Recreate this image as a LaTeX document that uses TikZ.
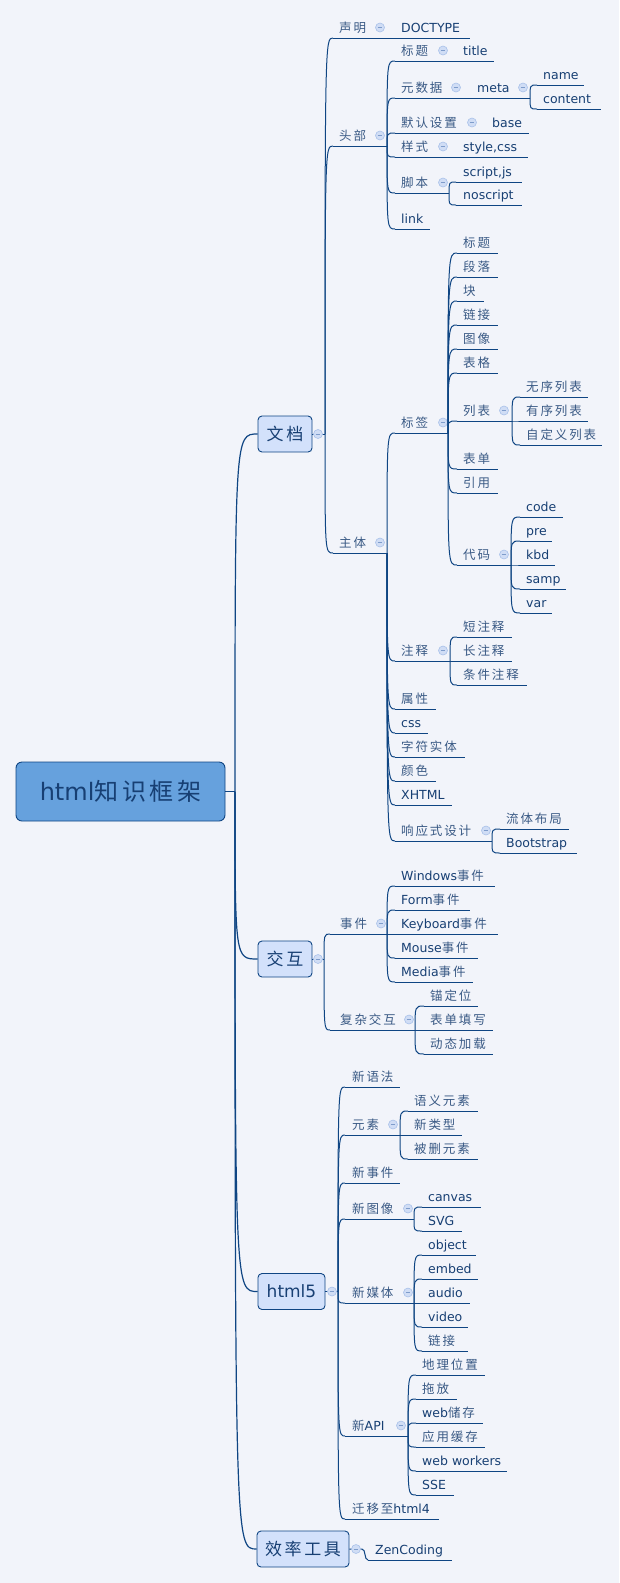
\documentclass[tikz,border=0pt]{standalone}
\usepackage{fontspec}
\setmainfont{DejaVu Sans}
\newfontfamily\cj[LetterSpace=15]{Noto Sans CJK SC}
\definecolor{bg}{HTML}{F2F4FA}
\definecolor{ln}{HTML}{0F4583}
\definecolor{tx}{HTML}{173F73}
\definecolor{tcj}{HTML}{3A5A85}
\definecolor{rootfill}{HTML}{66A1DD}
\definecolor{mainfill}{HTML}{D3E1FB}
\definecolor{ccfill}{HTML}{D0DDF5}
\definecolor{ccdraw}{HTML}{A9C1E9}
\definecolor{ccminus}{HTML}{7E9CCB}
\newcommand\zhc[1]{{\cj\color{tcj}#1}}
% [text offset]{name}{left x}{right x}{underline y}{text}
\newcommand\tp[6][6]{%
  \coordinate (#2-l) at (#3,#5);
  \coordinate (#2-r) at (#4,#5);
  \node[lbl, anchor=base west] (#2) at (#3+#1,#5-6) {#6};
  \draw[uline] (#2-l) -- (#2-r);
}
\newcommand\cc[3]{\node[collapse] (#1) at (#2,#3-10.5) {};}
\newcommand\cn[2]{\draw[conn] (#1) .. controls (#1 |- #2) .. (#2);}
\tikzset{
  lbl/.style={inner sep=0pt, text=tx, font=\fontsize{12.5}{14}\selectfont},
  uline/.style={draw=ln, line width=0.9pt},
  conn/.style={draw=ln, line width=1pt},
  trunk/.style={draw=ln, line width=1.2pt},
  mainbox/.style={draw=ln, fill=mainfill, rounded corners=4pt, line width=0.9pt,
    inner sep=0pt, minimum height=36pt, text=tx, font=\fontsize{17}{20}\selectfont},
  rootbox/.style={draw=ln, fill=rootfill, rounded corners=6pt, line width=0.9pt,
    inner sep=0pt, text=tx, font=\fontsize{24}{28}\selectfont},
  collapse/.style={circle, draw=ccdraw, fill=ccfill, minimum size=9pt, inner sep=0pt,
    line width=0.6pt, path picture={\draw[draw=ccminus, line width=0.7pt]
      ([xshift=-2.3pt]path picture bounding box.center) --
      ([xshift=2.3pt]path picture bounding box.center);}}
}
\begin{document}
\begin{tikzpicture}[x=1pt, y=-1pt]
\fill[bg] (0,0) rectangle (619,1583);
\useasboundingbox (0,0) rectangle (619,1583);

% ---------- root and main topics ----------
\node[rootbox, minimum width=209pt, minimum height=59pt] (root) at (120.5,791.5) {html{\cj 知识框架}};
\node[mainbox, minimum width=54pt] (doc) at (285,434) {\cj 文档};
\node[mainbox, minimum width=54pt] (inter) at (285,959) {\cj 交互};
\node[mainbox, minimum width=67pt] (h5) at (291.5,1291.5) {html5};
\node[mainbox, minimum width=92pt] (eff) at (303,1549) {\cj 效率工具};
\coordinate (T0) at (235,791.5);
\draw[trunk] (root.east) -- (T0);
\draw[trunk] (T0) .. controls (T0 |- doc.west) .. (doc.west);
\draw[trunk] (T0) .. controls (T0 |- inter.west) .. (inter.west);
\draw[trunk] (T0) .. controls (T0 |- h5.west) .. (h5.west);
\draw[trunk] (T0) .. controls (T0 |- eff.west) .. (eff.west);

% ---------- 文档 ----------
\coordinate (T1) at (325,434);
\draw[conn] (doc.east) -- (T1);
\node[collapse] (cdoc) at (318,434) {};
\tp{sm}{333}{395}{38}{\zhc{声明}} \cc{csm}{380}{38}
\tp{dtype}{395}{470}{38}{DOCTYPE}
\tp{hd}{333}{387}{146}{\zhc{头部}} \cc{chd}{380}{146}
\tp{zt}{333}{387}{553}{\zhc{主体}} \cc{czt}{380}{553}
\cn{T1}{sm-l} \cn{T1}{hd-l} \cn{T1}{zt-l}

% 头部
\tp{hbt}{395}{457}{61}{\zhc{标题}} \cc{chbt}{443}{61}
\tp{ntitle}{457}{494}{61}{title}
\tp{ysj}{395}{471}{98}{\zhc{元数据}} \cc{cysj}{456}{98}
\tp{nmeta}{471}{530}{98}{meta} \cc{cmeta}{523}{98}
\tp{nname}{537}{584}{85}{name}
\tp{ncontent}{537}{601}{109}{content}
\cn{nmeta-r}{nname-l} \cn{nmeta-r}{ncontent-l}
\tp{mrsz}{395}{486}{133}{\zhc{默认设置}} \cc{cmrsz}{472}{133}
\tp{nbase}{486}{529}{133}{base}
\tp{ysh}{395}{457}{157}{\zhc{样式}} \cc{cysh}{443}{157}
\tp{nstyle}{457}{528}{157}{style,css}
\tp{jb}{395}{449}{193}{\zhc{脚本}} \cc{cjb}{443}{193}
\tp[7]{nscript}{456}{522}{182}{script,js}
\tp[7]{nnoscript}{456}{522}{205}{noscript}
\cn{jb-r}{nscript-l} \cn{jb-r}{nnoscript-l}
\tp{nlink}{395}{430}{229}{link}
\cn{hd-r}{hbt-l} \cn{hd-r}{ysj-l} \cn{hd-r}{mrsz-l} \cn{hd-r}{ysh-l} \cn{hd-r}{jb-l} \cn{hd-r}{nlink-l}

% 主体
\tp{bq}{395}{448}{433}{\zhc{标签}} \cc{cbq}{443}{433}
\tp{bq1}{457}{498}{253}{\zhc{标题}}
\tp{bq2}{457}{498}{277}{\zhc{段落}}
\tp{bq3}{457}{484}{301}{\zhc{块}}
\tp{bq4}{457}{498}{325}{\zhc{链接}}
\tp{bq5}{457}{498}{349}{\zhc{图像}}
\tp{bq6}{457}{498}{373}{\zhc{表格}}
\tp{lb}{457}{512}{421}{\zhc{列表}} \cc{clb}{504}{421}
\tp{lb1}{520}{588}{397}{\zhc{无序列表}}
\tp{lb2}{520}{588}{421}{\zhc{有序列表}}
\tp{lb3}{520}{602}{445}{\zhc{自定义列表}}
\cn{lb-r}{lb1-l} \cn{lb-r}{lb2-l} \cn{lb-r}{lb3-l}
\tp{bd}{457}{498}{469}{\zhc{表单}}
\tp{yy}{457}{498}{493}{\zhc{引用}}
\tp{dm}{457}{511}{565}{\zhc{代码}} \cc{cdm}{504}{565}
\tp{ncode}{520}{563}{517}{code}
\tp{npre}{520}{552}{541}{pre}
\tp{nkbd}{520}{555}{565}{kbd}
\tp{nsamp}{520}{566}{589}{samp}
\tp{nvar}{520}{552}{613}{var}
\cn{dm-r}{ncode-l} \cn{dm-r}{npre-l} \cn{dm-r}{nkbd-l} \cn{dm-r}{nsamp-l} \cn{dm-r}{nvar-l}
\cn{bq-r}{bq1-l} \cn{bq-r}{bq2-l} \cn{bq-r}{bq3-l} \cn{bq-r}{bq4-l} \cn{bq-r}{bq5-l}
\cn{bq-r}{bq6-l} \cn{bq-r}{lb-l} \cn{bq-r}{bd-l} \cn{bq-r}{yy-l} \cn{bq-r}{dm-l}

\tp{zs}{395}{450}{661}{\zhc{注释}} \cc{czs}{443}{661}
\tp{zs1}{457}{512}{637}{\zhc{短注释}}
\tp{zs2}{457}{512}{661}{\zhc{长注释}}
\tp{zs3}{457}{527}{685}{\zhc{条件注释}}
\cn{zs-r}{zs1-l} \cn{zs-r}{zs2-l} \cn{zs-r}{zs3-l}
\tp{sx}{395}{436}{709}{\zhc{属性}}
\tp{ncss}{395}{428}{733}{css}
\tp{zfst}{395}{465}{757}{\zhc{字符实体}}
\tp{yse}{395}{436}{781}{\zhc{颜色}}
\tp{nxhtml}{395}{452}{805}{XHTML}
\tp{xy}{395}{492}{841}{\zhc{响应式设计}} \cc{cxy}{486}{841}
\tp{xy1}{500}{569}{829}{\zhc{流体布局}}
\tp{xy2}{500}{577}{853}{Bootstrap}
\cn{xy-r}{xy1-l} \cn{xy-r}{xy2-l}
\cn{zt-r}{bq-l} \cn{zt-r}{zs-l} \cn{zt-r}{sx-l} \cn{zt-r}{ncss-l} \cn{zt-r}{zfst-l}
\cn{zt-r}{yse-l} \cn{zt-r}{nxhtml-l} \cn{zt-r}{xy-l}

% ---------- 交互 ----------
\coordinate (T2) at (324,959);
\draw[conn] (inter.east) -- (T2);
\node[collapse] (cinter) at (318,959) {};
\tp[10]{sj}{330}{387}{934}{\zhc{事件}} \cc{csj}{381}{934}
\tp{sj1}{395}{495}{886}{Windows\zhc{事件}}
\tp{sj2}{395}{470}{910}{Form\zhc{事件}}
\tp{sj3}{395}{498}{934}{Keyboard\zhc{事件}}
\tp{sj4}{395}{478}{958}{Mouse\zhc{事件}}
\tp{sj5}{395}{473}{982}{Media\zhc{事件}}
\cn{sj-r}{sj1-l} \cn{sj-r}{sj2-l} \cn{sj-r}{sj3-l} \cn{sj-r}{sj4-l} \cn{sj-r}{sj5-l}
\tp[10]{fz}{330}{415}{1030}{\zhc{复杂交互}} \cc{cfz}{409}{1030}
\tp{fz1}{424}{478}{1006}{\zhc{锚定位}}
\tp{fz2}{424}{493}{1030}{\zhc{表单填写}}
\tp{fz3}{424}{493}{1054}{\zhc{动态加载}}
\cn{fz-r}{fz1-l} \cn{fz-r}{fz2-l} \cn{fz-r}{fz3-l}
\cn{T2}{sj-l} \cn{T2}{fz-l}

% ---------- html5 ----------
\coordinate (T3) at (338,1291.5);
\draw[conn] (h5.east) -- (T3);
\node[collapse] (ch5) at (332,1291.5) {};
\tp[7]{xyf}{345}{400}{1087}{\zhc{新语法}}
\tp[7]{yss}{345}{400}{1135}{\zhc{元素}} \cc{cyss}{393}{1135}
\tp{yss1}{408}{478}{1111}{\zhc{语义元素}}
\tp{yss2}{408}{462}{1135}{\zhc{新类型}}
\tp{yss3}{408}{478}{1159}{\zhc{被删元素}}
\cn{yss-r}{yss1-l} \cn{yss-r}{yss2-l} \cn{yss-r}{yss3-l}
\tp[7]{xsj}{345}{400}{1183}{\zhc{新事件}}
\tp[7]{xtx}{345}{414}{1219}{\zhc{新图像}} \cc{cxtx}{408}{1219}
\tp{ncanvas}{422}{481}{1207}{canvas}
\tp{nsvg}{422}{462}{1231}{SVG}
\cn{xtx-r}{ncanvas-l} \cn{xtx-r}{nsvg-l}
\tp[7]{xmt}{345}{414}{1303}{\zhc{新媒体}} \cc{cxmt}{408}{1303}
\tp{nobject}{422}{476}{1255}{object}
\tp{nembed}{422}{478}{1279}{embed}
\tp{naudio}{422}{470}{1303}{audio}
\tp{nvideo}{422}{468}{1327}{video}
\tp{lj}{422}{468}{1351}{\zhc{链接}}
\cn{xmt-r}{nobject-l} \cn{xmt-r}{nembed-l} \cn{xmt-r}{naudio-l} \cn{xmt-r}{nvideo-l} \cn{xmt-r}{lj-l}
\tp[7]{api}{345}{408}{1436}{\zhc{新}API} \cc{capi}{401}{1436}
\tp{api1}{416}{485}{1375}{\zhc{地理位置}}
\tp{api2}{416}{457}{1399}{\zhc{拖放}}
\tp{api3}{416}{483}{1423}{web\zhc{储存}}
\tp{api4}{416}{485}{1447}{\zhc{应用缓存}}
\tp{api5}{416}{507}{1471}{web workers}
\tp{api6}{416}{454}{1495}{SSE}
\cn{api-r}{api1-l} \cn{api-r}{api2-l} \cn{api-r}{api3-l} \cn{api-r}{api4-l} \cn{api-r}{api5-l} \cn{api-r}{api6-l}
\tp[7]{qy}{345}{439}{1519}{\zhc{迁移至}html4}
\cn{T3}{xyf-l} \cn{T3}{yss-l} \cn{T3}{xsj-l} \cn{T3}{xtx-l} \cn{T3}{xmt-l} \cn{T3}{api-l} \cn{T3}{qy-l}

% ---------- 效率工具 ----------
\coordinate (T4) at (362,1549);
\tp[7]{zen}{368}{452}{1560}{ZenCoding}
\draw[conn] (eff.east) -- (T4) .. controls +(4,0) and +(-4,0) .. (zen-l);
\node[collapse] (ceff) at (356,1549) {};
\end{tikzpicture}
\end{document}
